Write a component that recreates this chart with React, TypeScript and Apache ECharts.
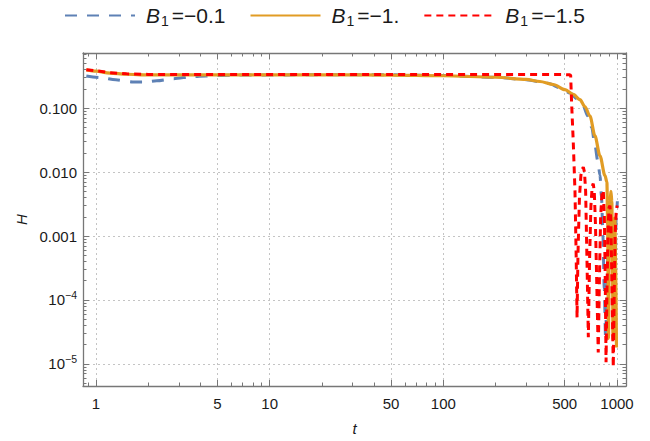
import React, { useEffect, useRef } from 'react';
import * as echarts from 'echarts';

// ---- data ----
const seriesNames = ['B1=-0.1', 'B1=-1.', 'B1=-1.5'];
const legendValues = ['=\u22120.1', '=\u22121.', '=\u22121.5'];
const xTickValues = [1, 5, 10, 50, 100, 500, 1000];
const yTickValues = [1e-5, 1e-4, 1e-3, 1e-2, 1e-1];

const tBlue = [0.88, 1.07, 1.3, 1.63, 1.95, 2.24, 2.8, 3.62, 4.3, 5, 6.5, 10, 20, 50, 100, 200, 300, 400, 480, 536, 590, 640, 680, 715, 747, 775, 798, 815, 830, 845, 860, 875, 895, 915, 935, 950, 962, 975, 990, 1005];
const hBlue = [0.318, 0.3, 0.278, 0.257, 0.258, 0.268, 0.29, 0.313, 0.32, 0.325, 0.33, 0.332, 0.333, 0.333, 0.325, 0.305, 0.28, 0.245, 0.205, 0.173, 0.14, 0.107, 0.075, 0.05, 0.026, 0.015, 0.009, 0.004, 0.001, 1.5e-4, 2.5e-5, 1.5e-4, 0.0015, 0.004, 0.0012, 1.5e-4, 3e-5, 3e-4, 0.002, 0.0035];

const tOrange = [0.88, 1.0, 1.2, 1.5, 2, 3, 5, 10, 20, 50, 100, 200, 300, 360, 430, 502, 560, 612, 655, 699, 747, 798, 853, 875, 884, 893, 902, 912, 923, 934, 942, 948, 956, 965, 973, 983, 993];
const hOrange = [0.398, 0.38, 0.355, 0.34, 0.333, 0.332, 0.333, 0.333, 0.333, 0.33, 0.322, 0.305, 0.282, 0.262, 0.235, 0.195, 0.165, 0.136, 0.105, 0.0751, 0.0368, 0.018, 0.0088, 0.007, 0.0015, 2.5e-5, 5e-4, 0.0035, 0.005, 0.0035, 5e-4, 2.4e-5, 2e-4, 0.0012, 0.0019, 3e-4, 1.8e-5];

const tRed = [0.88, 1.0, 1.2, 1.5, 2, 3, 5, 10, 50, 100, 300, 500, 535, 541, 548, 560, 573, 582, 589, 596, 608, 620, 630, 640, 650, 660, 672, 684, 695, 708, 720, 730, 740, 752, 766, 780, 792, 805, 820, 834, 846, 856, 865, 876, 890, 900, 911, 922, 932, 942, 952, 963, 975, 990, 1004];
const hRed = [0.4, 0.385, 0.36, 0.345, 0.338, 0.336, 0.336, 0.337, 0.338, 0.338, 0.338, 0.336, 0.333, 0.33, 0.12, 0.03, 0.005, 5e-4, 5.3e-5, 5e-4, 0.004, 0.009, 0.011, 0.012, 0.01, 0.005, 4e-4, 2.6e-5, 4e-4, 0.003, 0.006, 0.0066, 0.005, 0.0015, 1.5e-4, 1.5e-5, 2e-4, 0.002, 0.0048, 0.0052, 0.002, 2e-4, 1.06e-5, 1.5e-4, 0.0015, 0.0028, 0.003, 0.0018, 3e-4, 5e-5, 8.9e-6, 1e-4, 0.001, 0.0025, 0.003];

const X_MIN = 0.842;
const X_MAX = 1127;
const Y_MIN = 4.5e-6;
const Y_MAX = 0.731;

const FONT = '"Liberation Sans", Arial, sans-serif';
const TEXT = '#1a1a1a';
const FRAME = '#777777';
const GRID = '#c4c4c4';

function pairs(t: number[], h: number[]) {
  return t.map((v, i) => [v, h[i]]);
}

function yLabel(v: number) {
  const e = Math.round(Math.log10(v));
  if (e >= -3) return Math.pow(10, e).toFixed(3);
  return '{b|10}{sup|\u2212' + -e + '}';
}

export default function App() {
  const ref = useRef<HTMLDivElement>(null);
  useEffect(() => {
    if (!ref.current) return;
    const chart = echarts.init(ref.current, null, { renderer: 'svg' });
    const axisLine = { show: true, onZero: false, lineStyle: { color: FRAME, width: 1.3 } };
    const minorTick = { show: true, splitNumber: 9, length: 3.5, lineStyle: { color: FRAME, width: 1 } };
    const xBase = { type: 'log', logBase: 10, min: X_MIN, max: X_MAX };
    const yBase = { type: 'log', logBase: 10, min: Y_MIN, max: Y_MAX };
    const xTick = { show: true, inside: true, length: 6, customValues: xTickValues, lineStyle: { color: FRAME, width: 1 } };
    const yTick = { show: true, inside: true, length: 6, customValues: yTickValues, lineStyle: { color: FRAME, width: 1 } };
    const split = { show: true, lineStyle: { color: GRID, width: 1, type: [2, 3] } };
    const colors = ['#5e81b5', '#e19c24', '#ff0000'];
    const dashes: any[] = [[12, 10], 'solid', [7, 5]];
    const widths = [3, 3.2, 3];
    const smooths = [0.3, 0.3, false];
    const datasets = [pairs(tBlue, hBlue), pairs(tOrange, hOrange), pairs(tRed, hRed)];
    const option: any = {
      animation: false,
      backgroundColor: '#ffffff',
      textStyle: { fontFamily: FONT },
      legend: {
        top: 5,
        left: 64,
        padding: 0,
        itemWidth: 70,
        itemHeight: 20,
        itemGap: 24,
        data: seriesNames,
        itemStyle: { opacity: 0 },
        formatter: (name: string) => {
          const i = seriesNames.indexOf(name);
          return '{i|B}{s|1}{n|' + legendValues[i] + '}';
        },
        textStyle: {
          color: TEXT,
          fontSize: 21,
          padding: [0, 0, 0, 6],
          rich: {
            i: { fontSize: 21, fontStyle: 'italic', color: TEXT, fontFamily: FONT, padding: [0, 1, 0, 0] },
            s: { fontSize: 14, color: TEXT, padding: [10, 3, 0, 0], fontFamily: FONT },
            n: { fontSize: 21, color: TEXT, fontFamily: FONT },
          },
        },
      },
      grid: { left: 83, right: 24, top: 53, bottom: 52, containLabel: false },
      xAxis: [
        {
          ...xBase,
          position: 'bottom',
          name: 't',
          nameLocation: 'middle',
          nameGap: 35,
          nameTextStyle: { fontStyle: 'italic', fontSize: 15, color: TEXT, fontFamily: FONT },
          axisLine,
          axisTick: xTick,
          minorTick,
          axisLabel: { customValues: xTickValues, formatter: (v: number) => String(Math.round(v)), margin: 10, fontSize: 15, color: TEXT, fontFamily: FONT },
          splitLine: split,
        },
        {
          ...xBase,
          position: 'top',
          axisLine,
          axisTick: xTick,
          minorTick,
          axisLabel: { show: false },
          splitLine: { show: false },
        },
      ],
      yAxis: [
        {
          ...yBase,
          position: 'left',
          name: 'H',
          nameLocation: 'middle',
          nameGap: 43,
          nameTextStyle: { fontStyle: 'italic', fontSize: 15, color: TEXT, fontFamily: FONT },
          axisLine,
          axisTick: yTick,
          minorTick,
          axisLabel: {
            customValues: yTickValues,
            formatter: yLabel,
            margin: 6,
            fontSize: 15,
            color: TEXT,
            fontFamily: FONT,
            rich: {
              b: { fontSize: 15, color: TEXT, fontFamily: FONT },
              sup: { fontSize: 10.5, color: TEXT, fontFamily: FONT, padding: [0, 0, 9, 0] },
            },
          },
          splitLine: split,
        },
        {
          ...yBase,
          position: 'right',
          axisLine,
          axisTick: yTick,
          minorTick,
          axisLabel: { show: false },
          splitLine: { show: false },
        },
      ],
      series: seriesNames.map((name, i) => ({
        name,
        type: 'line',
        xAxisIndex: 0,
        yAxisIndex: 0,
        data: datasets[i],
        showSymbol: false,
        symbol: 'none',
        smooth: smooths[i],
        smoothMonotone: 'x',
        color: colors[i],
        lineStyle: { color: colors[i], width: widths[i], type: dashes[i] },
        z: 2 + i,
      })),
    };
    chart.setOption(option);
    return () => chart.dispose();
  }, []);
  return <div ref={ref} style={{ position: 'fixed', left: 0, top: 0, width: 650, height: 441, background: '#fff' }} />;
}
